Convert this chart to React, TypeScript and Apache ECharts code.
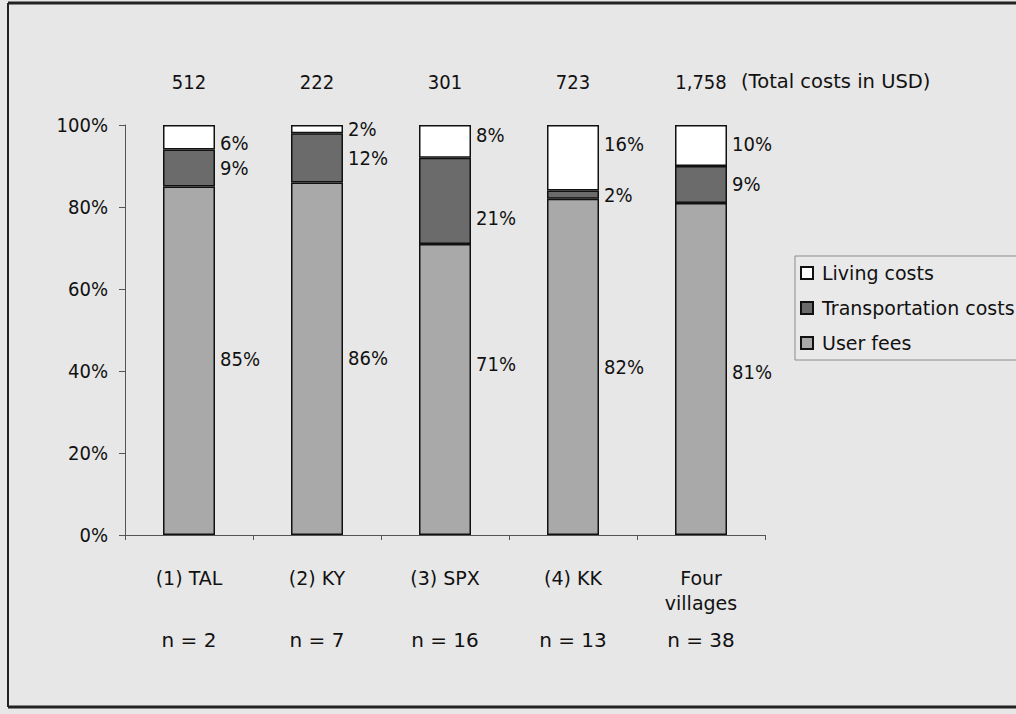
import React, { useEffect, useRef } from "react";
import * as echarts from "echarts";

const categories = ["(1) TAL", "(2) KY", "(3) SPX", "(4) KK", "Four\nvillages"];
const sampleSizes = ["n = 2", "n = 7", "n = 16", "n = 13", "n = 38"];
const totalCosts = ["512", "222", "301", "723", "1,758"];
const userFees = [85, 86, 71, 82, 81];
const transportationCosts = [9, 12, 21, 2, 9];
const livingCosts = [6, 2, 8, 16, 10];
const yTicks = [0, 20, 40, 60, 80, 100];

const FONT_C = "'DejaVu Sans Condensed', 'DejaVu Sans', Verdana, sans-serif";
const FONT = "'DejaVu Sans', Verdana, sans-serif";

// label nudges (styling only), matching the manually placed labels of the original
const userFeeNudge = [-2, -1, -25, 0, 3];
const transportNudge = [0, 0, 17, 0, 0];
const livingNudge = [6, 0, -6, -14, -2];

export default function App() {
  const ref = useRef<HTMLDivElement>(null);
  useEffect(() => {
    document.body.style.margin = "0";
    if (!ref.current) return;
    const chart = echarts.init(ref.current, undefined, { renderer: "svg" });
    const labelStyle = {
      show: true,
      position: "right" as const,
      distance: 5,
      formatter: "{c}%",
      color: "#111",
      fontSize: 20,
      fontFamily: FONT_C,
    };
    const withNudge = (vals: number[], nudge: number[]) =>
      vals.map((v, i) => ({ value: v, label: { offset: [0, nudge[i]] } }));
    const bw = { borderColor: "#111", borderWidth: 1.5 };
    chart.setOption({
      animation: false,
      backgroundColor: "#e7e7e7",
      textStyle: { fontFamily: FONT },
      grid: { left: 125, top: 125, width: 640, height: 410, containLabel: false },
      legend: {
        orient: "vertical",
        left: 795,
        top: 256,
        padding: [7, 8, 7, 5],
        itemGap: 15,
        itemWidth: 12,
        itemHeight: 12,
        backgroundColor: "#e9e9e9",
        borderColor: "#8a8a8a",
        borderWidth: 1,
        icon: "rect",
        data: ["Living costs", "Transportation costs", "User fees"],
        textStyle: { fontSize: 19, color: "#111", fontFamily: FONT, lineHeight: 20, padding: [0, 0, 0, 4] },
      },
      xAxis: [
        {
          type: "category",
          data: categories,
          position: "bottom",
          axisLine: { lineStyle: { color: "#555", width: 1 } },
          axisTick: { show: true, length: 5, lineStyle: { color: "#555" } },
          axisLabel: { margin: 30, fontSize: 19, color: "#111", lineHeight: 25, fontFamily: FONT },
        },
        {
          type: "category",
          data: sampleSizes,
          position: "bottom",
          offset: 0,
          axisLine: { show: false },
          axisTick: { show: false },
          axisLabel: { margin: 95, fontSize: 20, color: "#111", fontFamily: FONT },
        },
        {
          type: "category",
          data: totalCosts,
          position: "top",
          axisLine: { show: false },
          axisTick: { show: false },
          axisLabel: { margin: 33, fontSize: 20, color: "#111", fontFamily: FONT_C },
        },
      ],
      yAxis: {
        type: "value",
        min: yTicks[0],
        max: yTicks[yTicks.length - 1],
        interval: 20,
        splitLine: { show: false },
        axisLine: { show: true, lineStyle: { color: "#555", width: 1 } },
        axisTick: { show: true, length: 6, lineStyle: { color: "#555" } },
        axisLabel: { formatter: "{value}%", fontSize: 20, color: "#111", margin: 17, fontFamily: FONT_C },
      },
      series: [
        {
          name: "User fees",
          type: "bar",
          stack: "total",
          barWidth: 52,
          data: withNudge(userFees, userFeeNudge),
          itemStyle: { color: "#a9a9a9", ...bw },
          label: labelStyle,
        },
        {
          name: "Transportation costs",
          type: "bar",
          stack: "total",
          barWidth: 52,
          data: withNudge(transportationCosts, transportNudge),
          itemStyle: { color: "#6b6b6b", ...bw },
          label: labelStyle,
        },
        {
          name: "Living costs",
          type: "bar",
          stack: "total",
          barWidth: 52,
          data: withNudge(livingCosts, livingNudge),
          itemStyle: { color: "#ffffff", ...bw },
          label: labelStyle,
        },
      ],
      graphic: [
        {
          type: "text",
          left: 741,
          top: 71,
          style: { text: "(Total costs in USD)", fontSize: 19.5, fill: "#111", fontFamily: FONT },
        },
        {
          type: "line",
          shape: { x1: 8, y1: 3, x2: 1016, y2: 3 },
          style: { stroke: "#222", lineWidth: 3 },
        },
        {
          type: "line",
          shape: { x1: 8, y1: 3, x2: 8, y2: 707 },
          style: { stroke: "#222", lineWidth: 2 },
        },
        {
          type: "line",
          shape: { x1: 8, y1: 707, x2: 1016, y2: 707 },
          style: { stroke: "#222", lineWidth: 3 },
        },
      ],
    });
    return () => chart.dispose();
  }, []);
  return <div ref={ref} style={{ width: 1016, height: 714 }} />;
}
